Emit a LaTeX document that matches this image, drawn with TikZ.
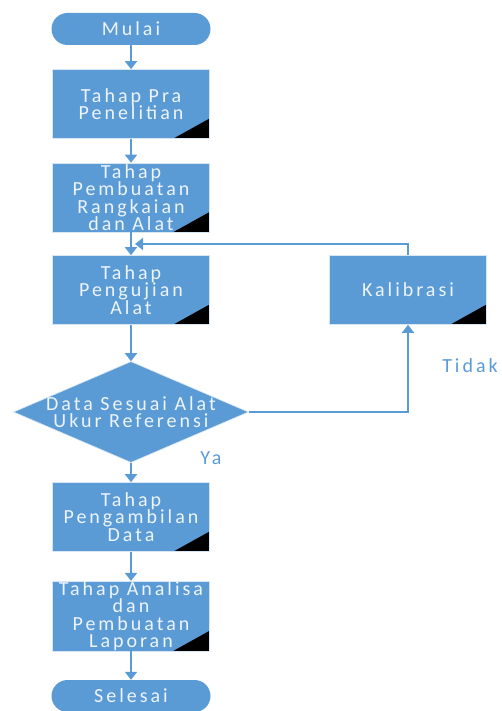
\documentclass[tikz,border=0pt]{standalone}
\usepackage{fontspec}
\setmainfont{Carlito}[LetterSpace=15]
\usetikzlibrary{shapes.geometric,arrows.meta,positioning}

\definecolor{birusel}{HTML}{5B9BD5}
\definecolor{tekssel}{HTML}{EEF4FB}

\tikzset{
  tahap/.style={rectangle, fill=birusel, draw=white!75!birusel, line width=0.6pt,
    minimum width=157pt, minimum height=69pt, inner sep=0pt, align=center,
    text=tekssel, font=\fontsize{20}{17.5}\selectfont,
    path picture={\fill[black] (path picture bounding box.south east)
      -- ++(-36pt,0pt) -- ++(36pt,20pt) -- cycle;}},
  terminal/.style={rectangle, rounded corners=16pt, fill=birusel,
    minimum width=159pt, minimum height=32pt, inner sep=0pt,
    text=tekssel, font=\fontsize{20}{17.5}\selectfont},
  keputusan/.style={diamond, fill=birusel, draw=white!75!birusel, line width=0.6pt,
    minimum width=235pt, minimum height=101pt, inner sep=0pt},
  panah/.style={draw=birusel, line width=1.8pt, -{Triangle[width=12pt,length=8pt]}},
  ket/.style={text=birusel, font=\fontsize{20}{17.5}\selectfont}
}

\begin{document}
\begin{tikzpicture}[x=1pt,y=-1pt]
  \useasboundingbox (0,0) rectangle (501,711);
  % alur utama
  \node[terminal] (mulai) at (131,29) {Mulai};
  \node[tahap] (pra) at (131,104) {Tahap Pra\\Penelitian};
  \node[tahap] (buat) at (131,197.5) {Tahap\\Pembuatan\\Rangkaian\\dan Alat};
  \node[tahap] (uji) at (131,290) {Tahap\\Pengujian\\Alat};
  \node[keputusan] (cek) at (131,412) {};
  \node[text=tekssel, font=\fontsize{20}{17.5}\selectfont, align=center] (cekteks) at (cek) {Data Sesuai Alat\\Ukur Referensi};
  \node[tahap] (ambil) at (131,517) {Tahap\\Pengambilan\\Data};
  \node[tahap] (lapor) at (131,616) {Tahap Analisa\\dan\\Pembuatan\\Laporan};
  \node[terminal] (selesai) at (131,696) {Selesai};
  % cabang kalibrasi
  \node[tahap] (kal) at (408,290) {Kalibrasi};
  \coordinate (balik) at (135,244);
  \node[ket] (tidak) at (470,366) {Tidak};
  \node[ket] (ya) at (211,458) {Ya};

  \draw[panah] (mulai) -- (pra);
  \draw[panah] (pra) -- (buat);
  \draw[panah] (buat) -- (uji);
  \draw[panah] (uji) -- (cek);
  \draw[panah] (cek) -- (ambil);
  \draw[panah] (ambil) -- (lapor);
  \draw[panah] (lapor) -- (selesai);
  \draw[panah] (cek.east) -| (kal.south);
  \draw[panah] (kal.north) |- (balik);
\end{tikzpicture}
\end{document}
